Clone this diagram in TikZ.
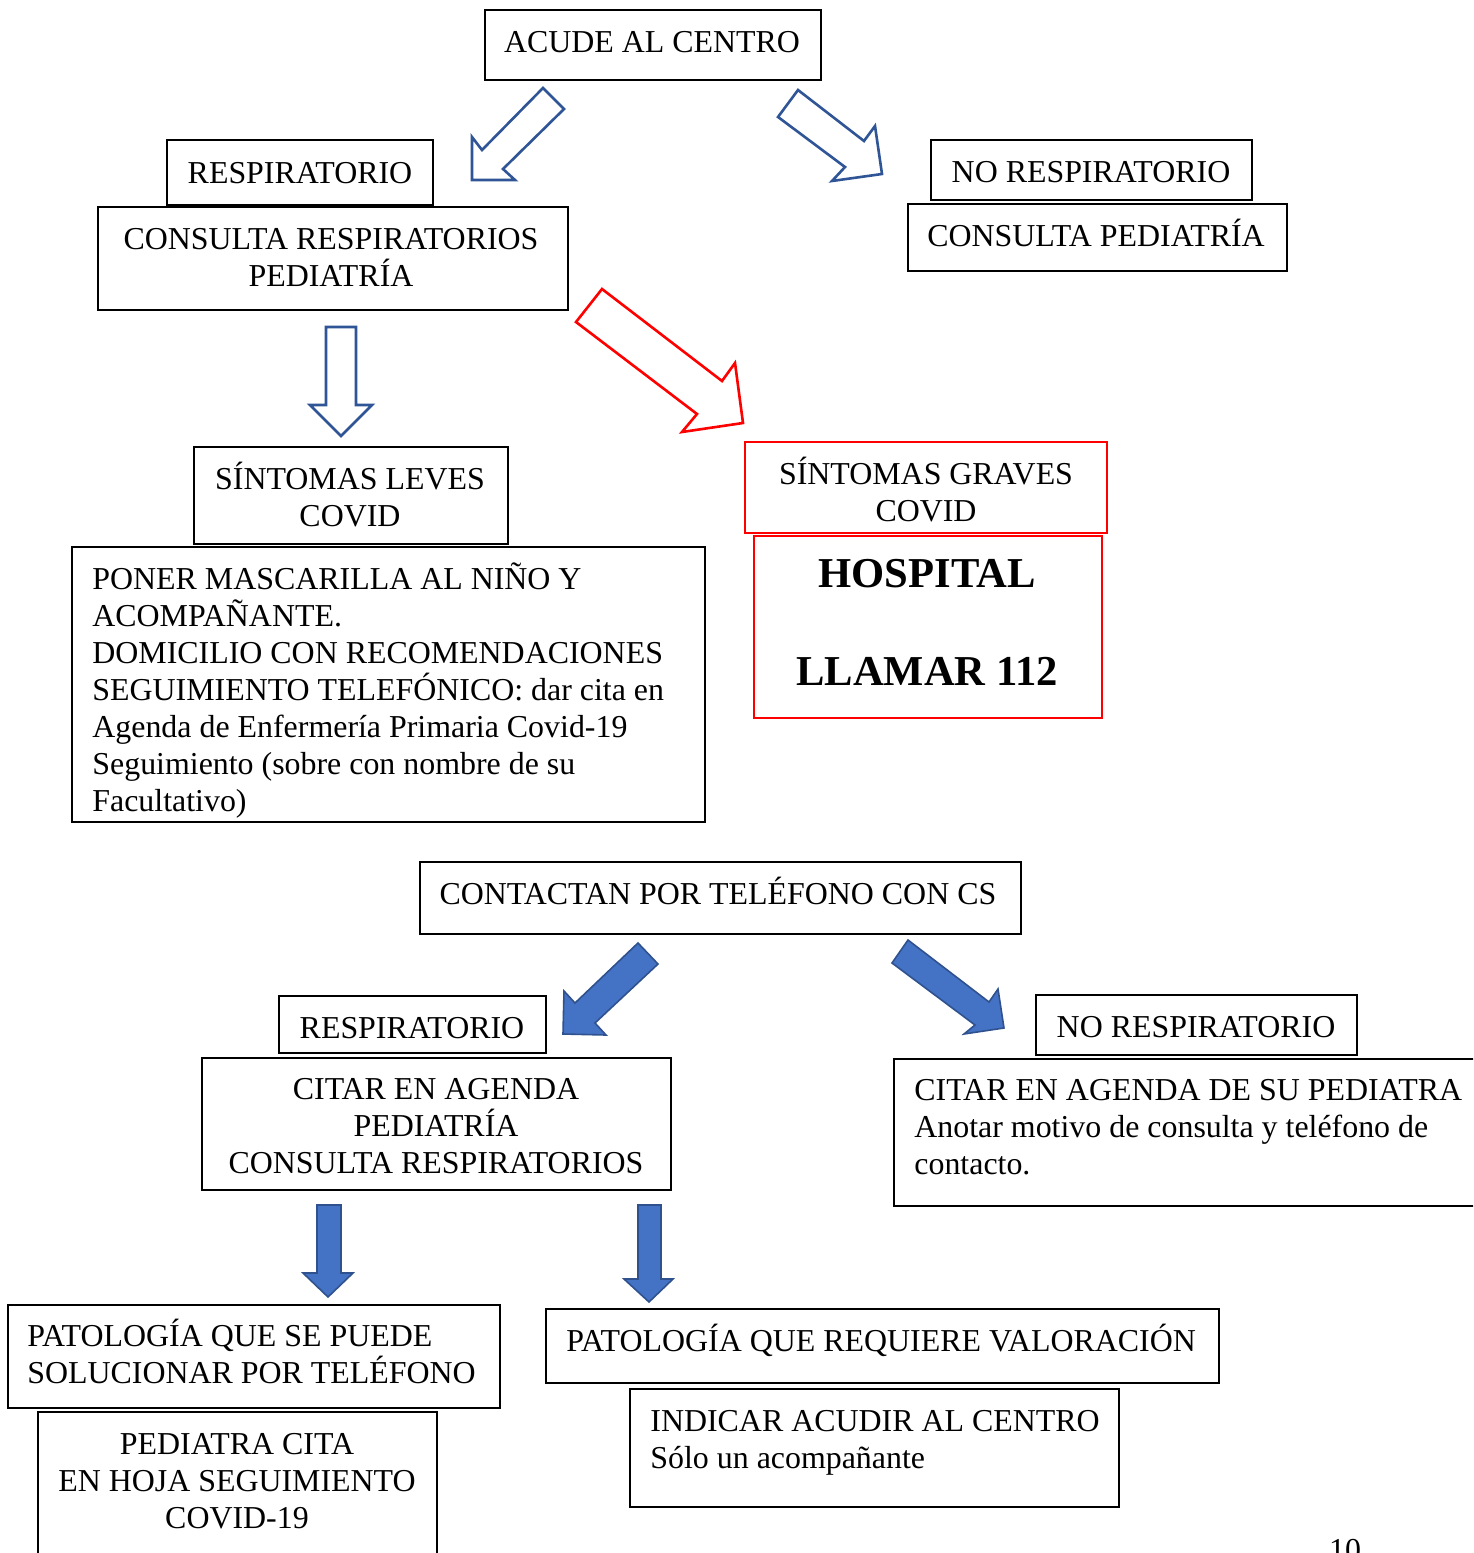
\documentclass[tikz,border=0pt]{standalone}
\usepackage{fontspec}
\setmainfont{Liberation Serif}
\usetikzlibrary{fit}
\definecolor{outblue}{HTML}{2F5597}
\definecolor{fillblue}{HTML}{4472C4}
\definecolor{edgeblue}{HTML}{2F528F}
\tikzset{
  box/.style={draw=black, line width=1pt, inner sep=0pt},
  redbox/.style={draw=red, line width=1pt, inner sep=0pt},
  txt/.style={inner sep=0pt, font=\fontsize{15.95}{18.5}\selectfont},
  % multi-line texts are placed by the baseline of their last line
  ctxt/.style={txt, anchor=base, align=center},
  ltxt/.style={txt, anchor=base west, align=left},
  bigtxt/.style={inner sep=0pt, anchor=base, align=center,
    font=\fontsize{21.3}{49}\selectfont\bfseries},
  hollowarrow/.style={draw=outblue, line width=1.3pt, line join=miter, fill=white},
  redarrow/.style={draw=red, line width=1.3pt, line join=miter, fill=white},
  solidarrow/.style={draw=edgeblue, line width=0.8pt, line join=miter, fill=fillblue},
}
\begin{document}
\begin{tikzpicture}[x=0.5pt, y=-0.5pt]
\clip (0,0) rectangle (1473,1553);
\fill[white] (0,0) rectangle (1473,1553);

% ---------- first block: patient arrives at the centre ----------
\node[box, fit={(485,10)(821,80)}] (acude) {};
\node[ctxt] (acudeT) at (652,52) {ACUDE AL CENTRO};

\node[box, fit={(167,140)(433,205)}] (resp) {};
\node[ctxt] (respT) at (300,183) {RESPIRATORIO};

\node[box, fit={(98,207)(568,310)}] (consresp) {};
\node[ctxt] (consrespT) at (331,286) {CONSULTA RESPIRATORIOS\\PEDIATRÍA};

\node[box, fit={(931,140)(1252,200)}] (noresp) {};
\node[ctxt] (norespT) at (1091,182) {NO RESPIRATORIO};

\node[box, fit={(908,204)(1287,271)}] (conspedi) {};
\node[ctxt] (conspediT) at (1096,246) {CONSULTA PEDIATRÍA};

\node[box, fit={(194,447)(508,544)}] (leves) {};
\node[ctxt] (levesT) at (350,526) {SÍNTOMAS LEVES\\COVID};

\node[box, fit={(72,547)(705,822)}] (mascarilla) {};
\node[ltxt] (mascarillaT) at (92,811) {PONER MASCARILLA AL NIÑO Y\\ACOMPAÑANTE.\\DOMICILIO CON RECOMENDACIONES\\SEGUIMIENTO TELEFÓNICO: dar cita en\\Agenda de Enfermería Primaria Covid-19\\Seguimiento (sobre con nombre de su\\Facultativo)};

\node[redbox, fit={(745,442)(1107,533)}] (graves) {};
\node[ctxt] (gravesT) at (926,521) {SÍNTOMAS GRAVES\\COVID};

\node[redbox, fit={(754,536)(1102,718)}] (hospital) {};
\node[bigtxt] (hospitalT) at (927,685) {HOSPITAL\\LLAMAR 112};

% hollow block arrows
\draw[hollowarrow] (543,88) -- (564,109) -- (503,169) -- (515,180) -- (472,180) -- (472,137) -- (482,150) -- cycle;
\draw[hollowarrow] (798,90) -- (864,141) -- (875,126) -- (882,174) -- (832,181) -- (845,167) -- (778,117) -- cycle;
\draw[hollowarrow] (326,327) -- (356,327) -- (356,405) -- (372,405) -- (341,436) -- (310,405) -- (326,405) -- cycle;
\draw[redarrow] (602,289) -- (722,381) -- (735,363) -- (743,423) -- (682,432) -- (697,414) -- (576,322) -- cycle;

% ---------- second block: phone contact with the health centre ----------
\node[box, fit={(420,862)(1021,934)}] (contactan) {};
\node[ctxt] (contactanT) at (718,904) {CONTACTAN POR TELÉFONO CON CS};

\node[box, fit={(279,996)(546,1053)}] (resp2) {};
\node[ctxt] (resp2T) at (412,1038) {RESPIRATORIO};

\node[box, fit={(1036,995)(1357,1055)}] (noresp2) {};
\node[ctxt] (noresp2T) at (1196,1037) {NO RESPIRATORIO};

\node[box, fit={(202,1058)(671,1190)}] (citarresp) {};
\node[ctxt] (citarrespT) at (436,1173) {CITAR EN AGENDA\\PEDIATRÍA\\CONSULTA RESPIRATORIOS};

\node[box, fit={(894,1059)(1490,1206)}] (citarpedi) {};
\node[ltxt] (citarpediT) at (914,1174) {CITAR EN AGENDA DE SU PEDIATRA\\Anotar motivo de consulta y teléfono de\\contacto.};

\node[box, fit={(8,1305)(500,1408)}] (soluc) {};
\node[ltxt] (solucT) at (27,1383) {PATOLOGÍA QUE SE PUEDE\\SOLUCIONAR POR TELÉFONO};

\node[box, fit={(38,1412)(437,1570)}] (hoja) {};
\node[ctxt] (hojaT) at (237,1528) {PEDIATRA CITA\\EN HOJA SEGUIMIENTO\\COVID-19};

\node[box, fit={(546,1309)(1219,1383)}] (valor) {};
\node[ltxt] (valorT) at (566,1351) {PATOLOGÍA QUE REQUIERE VALORACIÓN};

\node[box, fit={(630,1389)(1119,1507)}] (indicar) {};
\node[ltxt] (indicarT) at (650,1468) {INDICAR ACUDIR AL CENTRO\\Sólo un acompañante};

% solid block arrows
\draw[solidarrow] (638,943) -- (658,964) -- (595,1023) -- (606,1035) -- (563,1034) -- (564,991) -- (575,1003) -- cycle;
\draw[solidarrow] (908,940) -- (989,1002) -- (998,989) -- (1004,1028) -- (964,1034) -- (975,1025) -- (892,963) -- cycle;
\draw[solidarrow] (317,1205) -- (341,1205) -- (341,1273) -- (353,1273) -- (328,1297) -- (303,1273) -- (317,1273) -- cycle;
\draw[solidarrow] (638,1205) -- (661,1205) -- (661,1279) -- (673,1279) -- (649,1302) -- (624,1279) -- (638,1279) -- cycle;

% page number
\node[ctxt] (pagenum) at (1345,1560) {10};
\end{tikzpicture}
\end{document}
